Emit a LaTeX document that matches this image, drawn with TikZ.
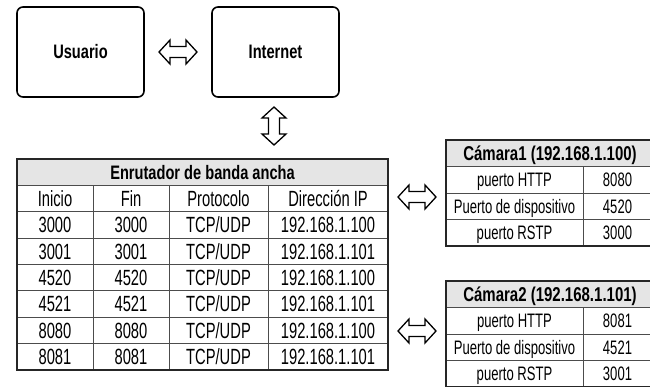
\documentclass[tikz,border=0pt]{standalone}
\usepackage{fontspec}
\setmainfont{Liberation Sans}[FakeStretch=0.67]
\newfontfamily\hfont{Liberation Sans}[FakeStretch=0.75]
\usetikzlibrary{calc}
\newcommand{\rfont}{\fontsize{22}{23}\selectfont}
\newcommand{\cfont}{\fontsize{19.5}{20}\selectfont}
\newcommand{\hbfont}{\hfont\bfseries\fontsize{19.5}{20}\selectfont}
\newcommand{\chfont}{\hfont\bfseries\fontsize{20}{21}\selectfont}
\begin{document}
\begin{tikzpicture}[x=1pt,y=-1pt,
  box/.style={draw=black, line width=1.6pt, rounded corners=6pt, minimum width=127pt, minimum height=90pt, inner sep=0pt, font=\hbfont},
  frame/.style={draw=black!85, line width=1.6pt, inner sep=0pt},
  grid/.style={draw=black!70, line width=0.9pt},
  hdfill/.style={fill=black!10},
  rt/.style={font=\rfont, inner sep=0pt, text height=15.7pt, text depth=0pt},
  ct/.style={font=\cfont, inner sep=0pt, text height=14pt, text depth=0pt},
  rh/.style={font=\hbfont, inner sep=0pt, text height=14pt, text depth=0pt},
  ch/.style={font=\chfont, inner sep=0pt, text height=14.3pt, text depth=0pt},
  dbl/.pic={\draw[line width=1.3pt, line join=miter, fill=white]
     (-19,0) -- (-8,-12) -- (-8,-5.5) -- (8,-5.5) -- (8,-12) -- (19,0)
     -- (8,12) -- (8,5.5) -- (-8,5.5) -- (-8,12) -- cycle;}
]
\useasboundingbox (0,0) rectangle (650,386);
\clip (0,0) rectangle (650,386);

% top boxes
\node[box] (user) at (80.5,52) {Usuario};
\node[box] (inet) at (275.5,52) {Internet};

% router table
\fill[hdfill] (17,159) rectangle (388,185.4);
\foreach \yy in {185.4,211.75,238.1,264.5,290.9,317.25,343.6}
  \draw[grid] (17,\yy) -- (388,\yy);
\foreach \xx in {93,169,268}
  \draw[grid] (\xx,185.4) -- (\xx,370);
\node[rh] (rhead) at (202.5,172.2) {Enrutador de banda ancha};
\node[rt] (c1) at (55,198.6) {Inicio};
\node[rt] (c2) at (131,198.6) {Fin};
\node[rt] (c3) at (218.5,198.6) {Protocolo};
\node[rt] (c4) at (328,198.6) {Dirección IP};
\foreach \a/\b/\ip [count=\i] in {3000/3000/192.168.1.100,3001/3001/192.168.1.101,4520/4520/192.168.1.100,4521/4521/192.168.1.101,8080/8080/192.168.1.100,8081/8081/192.168.1.101}{
  \pgfmathsetmacro{\yc}{159+26.375*(\i+1.5)}
  \node[rt] (r\i-1) at (55,\yc) {\a};
  \node[rt] (r\i-2) at (131,\yc) {\b};
  \node[rt] (r\i-3) at (218.5,\yc) {TCP/UDP};
  \node[rt] (r\i-4) at (328,\yc) {\ip};
}
\node[frame, minimum width=371pt, minimum height=211pt] (router) at (202.5,264.5) {};

% camera 1
\fill[hdfill] (446,140) rectangle (652,166.5);
\foreach \yy in {166.5,193,219.5}
  \draw[grid] (446,\yy) -- (652,\yy);
\draw[grid] (583,166.5) -- (583,246);
\node[ch] (k1h) at (550,153.2) {Cámara1 (192.168.1.100)};
\node[ct] (k1a) at (514.5,179.7) {puerto HTTP};
\node[ct] (k1b) at (617.5,179.7) {8080};
\node[ct] (k1c) at (514.5,206.2) {Puerto de dispositivo};
\node[ct] (k1d) at (617.5,206.2) {4520};
\node[ct] (k1e) at (514.5,232.7) {puerto RSTP};
\node[ct] (k1f) at (617.5,232.7) {3000};
\node[frame, minimum width=206pt, minimum height=106pt] (cam1) at (549,193) {};

% camera 2
\fill[hdfill] (446,281) rectangle (652,307.5);
\foreach \yy in {307.5,334,360.5}
  \draw[grid] (446,\yy) -- (652,\yy);
\draw[grid] (583,307.5) -- (583,387);
\node[ch] (k2h) at (550,294.2) {Cámara2 (192.168.1.101)};
\node[ct] (k2a) at (514.5,320.7) {puerto HTTP};
\node[ct] (k2b) at (617.5,320.7) {8081};
\node[ct] (k2c) at (514.5,347.2) {Puerto de dispositivo};
\node[ct] (k2d) at (617.5,347.2) {4521};
\node[ct] (k2e) at (514.5,373.7) {puerto RSTP};
\node[ct] (k2f) at (617.5,373.7) {3001};
\node[frame, minimum width=206pt, minimum height=106pt] (cam2) at (549,334) {};

% double arrows
\coordinate (a1) at ($(user.east)!0.5!(inet.west)$);
\pic at (a1) {dbl};
\coordinate (a2) at ($(inet.south)!0.5!(inet.south |- router.north)$);
\pic[rotate=90] at ($(a2)+(-1.5,-2)$) {dbl};
\coordinate (a3) at ($(router.east)!0.5!(cam1.west)$);
\pic at (a3 |- 0,197) {dbl};
\coordinate (a4) at ($(router.east)!0.5!(cam2.west)$);
\pic at (a4 |- 0,331) {dbl};
\end{tikzpicture}
\end{document}
